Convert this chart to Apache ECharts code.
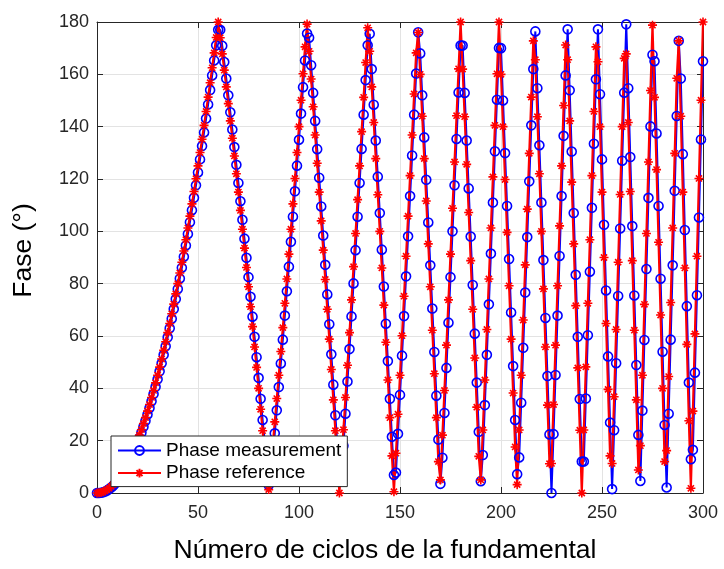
<!DOCTYPE html>
<html>
<head>
<meta charset="utf-8">
<script src="https://cdn.jsdelivr.net/npm/echarts@6/dist/echarts.min.js"></script>
<style>
html,body{margin:0;padding:0;background:#fff;}
#c{width:724px;height:569px;}
</style>
</head>
<body>
<div id="c"></div>
<script>
// Cycle number (x) is the array index: 0..300, one sample per cycle.
const xTicks = [0, 50, 100, 150, 200, 250, 300];
const yTicks = [0, 20, 40, 60, 80, 100, 120, 140, 160, 180];
const seriesNames = ['Phase measurement', 'Phase reference'];

const phaseMeasurement = [
  0, 0, 0.1, 0.3, 0.6, 1, 1.5, 2.1, 2.8, 3.6,
  4.5, 5.5, 6.6, 7.8, 9.1, 10.5, 12, 13.6, 15.3, 17.1,
  19, 21, 23.1, 25.3, 27.6, 30, 32.5, 35.1, 37.8, 40.6,
  43.5, 46.5, 49.6, 52.8, 56.1, 59.5, 63, 66.6, 70.3, 74.1,
  78, 82, 86.1, 90.3, 94.6, 99, 103.5, 108.1, 112.8, 117.6,
  122.5, 127.5, 132.6, 137.8, 143.1, 148.5, 154, 159.6, 165.3, 171.1,
  177, 177, 170.9, 164.7, 158.4, 152, 145.5, 138.9, 132.2, 125.4,
  118.5, 111.5, 104.4, 97.2, 89.9, 82.5, 75, 67.4, 59.7, 51.9,
  44, 36, 27.9, 19.7, 11.4, 3, 5.5, 14.1, 22.8, 31.6,
  40.5, 49.5, 58.6, 67.8, 77.1, 86.5, 96, 105.6, 115.3, 125.1,
  135, 145, 155.1, 165.3, 175.6, 174, 163.5, 152.9, 142.2, 131.4,
  120.5, 109.5, 98.4, 87.2, 75.9, 64.5, 53, 41.4, 29.7, 17.9,
  6, 6, 18.1, 30.3, 42.6, 55, 67.5, 80.1, 92.8, 105.6,
  118.5, 131.5, 144.6, 157.8, 171.1, 175.5, 162, 148.4, 134.7, 120.9,
  107, 93, 78.9, 64.7, 50.4, 36, 21.5, 6.9, 7.8, 22.6,
  37.5, 52.5, 67.6, 82.8, 98.1, 113.5, 129, 144.6, 160.3, 176.1,
  168, 152, 135.9, 119.7, 103.4, 87, 70.5, 53.9, 37.2, 20.4,
  3.5, 13.5, 30.6, 47.8, 65.1, 82.5, 100, 117.6, 135.3, 153.1,
  171, 171, 152.9, 134.7, 116.4, 98, 79.5, 60.9, 42.2, 23.4,
  4.5, 14.5, 33.6, 52.8, 72.1, 91.5, 111, 130.6, 150.3, 170.1,
  170, 150, 129.9, 109.7, 89.4, 69, 48.5, 27.9, 7.2, 13.6,
  34.5, 55.5, 76.6, 97.8, 119.1, 140.5, 162, 176.4, 154.7, 132.9,
  111, 89, 66.9, 44.7, 22.4, 0, 22.5, 45.1, 67.8, 90.6,
  113.5, 136.5, 159.6, 177.2, 153.9, 130.5, 107, 83.4, 59.7, 35.9,
  12, 12, 36.1, 60.3, 84.6, 109, 133.5, 158.1, 177.2, 152.4,
  127.5, 102.5, 77.4, 52.2, 26.9, 1.5, 24, 49.6, 75.3, 101.1,
  127, 153, 179.1, 154.7, 128.4, 102, 75.5, 48.9, 22.2, 4.6,
  31.5, 58.5, 85.6, 112.8, 140.1, 167.5, 165, 137.4, 109.7, 81.9,
  54, 26, 2.1, 30.3, 58.6, 87, 115.5, 144.1, 172.8, 158.4,
  129.5, 100.5, 71.4, 42.2, 12.9, 16.5, 46, 75.6, 105.3, 135.1,
  165
];

const phaseReference = [
  0, 0.1, 0.2, 0.5, 0.8, 1.3, 1.8, 2.5, 3.2, 4.1,
  5, 6.1, 7.2, 8.5, 9.8, 11.3, 12.8, 14.5, 16.2, 18.1,
  20, 22.1, 24.2, 26.5, 28.8, 31.3, 33.8, 36.5, 39.2, 42.1,
  45, 48.1, 51.2, 54.5, 57.8, 61.3, 64.8, 68.5, 72.2, 76.1,
  80, 84.1, 88.2, 92.5, 96.8, 101.3, 105.8, 110.5, 115.2, 120.1,
  125, 130.1, 135.2, 140.5, 145.8, 151.3, 156.8, 162.5, 168.2, 174.1,
  180, 174, 167.8, 161.6, 155.2, 148.8, 142.2, 135.6, 128.8, 122,
  115, 108, 100.8, 93.6, 86.2, 78.8, 71.2, 63.6, 55.8, 48,
  40, 32, 23.8, 15.6, 7.2, 1.3, 9.8, 18.5, 27.2, 36.1,
  45, 54.1, 63.2, 72.5, 81.8, 91.3, 100.8, 110.5, 120.2, 130.1,
  140, 150.1, 160.2, 170.5, 179.2, 168.8, 158.2, 147.6, 136.8, 126,
  115, 104, 92.8, 81.6, 70.2, 58.8, 47.2, 35.6, 23.8, 12,
  0, 12.1, 24.2, 36.5, 48.8, 61.3, 73.8, 86.5, 99.2, 112.1,
  125, 138.1, 151.2, 164.5, 177.8, 168.8, 155.2, 141.6, 127.8, 114,
  100, 86, 71.8, 57.6, 43.2, 28.8, 14.2, 0.5, 15.2, 30.1,
  45, 60.1, 75.2, 90.5, 105.8, 121.3, 136.8, 152.5, 168.2, 176,
  160, 144, 127.8, 111.6, 95.2, 78.8, 62.2, 45.6, 28.8, 12,
  5, 22.1, 39.2, 56.5, 73.8, 91.3, 108.8, 126.5, 144.2, 162.1,
  180, 162, 143.8, 125.6, 107.2, 88.8, 70.2, 51.6, 32.8, 14,
  5, 24.1, 43.2, 62.5, 81.8, 101.3, 120.8, 140.5, 160.2, 180,
  160, 140, 119.8, 99.6, 79.2, 58.8, 38.2, 17.6, 3.2, 24.1,
  45, 66.1, 87.2, 108.5, 129.8, 151.3, 172.8, 165.6, 143.8, 122,
  100, 78, 55.8, 33.6, 11.2, 11.3, 33.8, 56.5, 79.2, 102.1,
  125, 148.1, 171.2, 165.6, 142.2, 118.8, 95.2, 71.6, 47.8, 24,
  0, 24.1, 48.2, 72.5, 96.8, 121.3, 145.8, 170.5, 164.8, 140,
  115, 90, 64.8, 39.6, 14.2, 11.3, 36.8, 62.5, 88.2, 114.1,
  140, 166.1, 167.8, 141.6, 115.2, 88.8, 62.2, 35.6, 8.8, 18.1,
  45, 72.1, 99.2, 126.5, 153.8, 178.8, 151.2, 123.6, 95.8, 68,
  40, 12, 16.2, 44.5, 72.8, 101.3, 129.8, 158.5, 172.8, 144,
  115, 86, 56.8, 27.6, 1.8, 31.3, 60.8, 90.5, 120.2, 150.1,
  180
];

const FONT = '"Liberation Sans", Arial, Helvetica, sans-serif';
const AXIS_COLOR = '#262626';
const GRID_COLOR = '#e3e3e3';
const ASTERISK = 'path://M5 0L5 10M0 5L10 5M1.6 1.6L8.4 8.4M8.4 1.6L1.6 8.4';

const toPairs = arr => arr.map((v, i) => [i, v]);

const xMin = xTicks[0], xMax = xTicks[xTicks.length - 1];
const yMin = yTicks[0], yMax = yTicks[yTicks.length - 1];
const xStep = xTicks[1] - xTicks[0], yStep = yTicks[1] - yTicks[0];

function xAxisCfg(pos, show) {
  return {
    type: 'value', position: pos, min: xMin, max: xMax, interval: xStep,
    axisLine: { show: true, onZero: false, lineStyle: { color: AXIS_COLOR, width: 1 } },
    axisTick: { show: true, inside: true, length: 6, lineStyle: { color: AXIS_COLOR } },
    axisLabel: { show: show, margin: 11, fontSize: 18, color: AXIS_COLOR, fontFamily: FONT },
    splitLine: { show: show, lineStyle: { color: GRID_COLOR, width: 1 } }
  };
}
function yAxisCfg(pos, show) {
  return {
    type: 'value', position: pos, min: yMin, max: yMax, interval: yStep,
    axisLine: { show: true, onZero: false, lineStyle: { color: AXIS_COLOR, width: 1 } },
    axisTick: { show: true, inside: true, length: 6, lineStyle: { color: AXIS_COLOR } },
    axisLabel: { show: show, margin: 8, fontSize: 18, color: AXIS_COLOR, fontFamily: FONT },
    splitLine: { show: show, lineStyle: { color: GRID_COLOR, width: 1 } }
  };
}

const xBottom = xAxisCfg('bottom', true);
xBottom.name = 'Número de ciclos de la fundamental';
xBottom.nameLocation = 'middle';
xBottom.nameGap = 44;
xBottom.nameTextStyle = { fontSize: 26.5, color: '#000', fontFamily: FONT, padding: [0, 30, 0, 0] };

const yLeft = yAxisCfg('left', true);
yLeft.name = 'Fase (°)';
yLeft.nameLocation = 'middle';
yLeft.nameGap = 60;
yLeft.nameTextStyle = { fontSize: 26.5, color: '#000', fontFamily: FONT, padding: [0, 0, 0, 14] };

const chart = echarts.init(document.getElementById('c'), null, { renderer: 'canvas' });
chart.setOption({
  animation: false,
  backgroundColor: '#fff',
  grid: { left: 97, right: 21, top: 22, bottom: 69, containLabel: false },
  xAxis: [xBottom, xAxisCfg('top', false)],
  yAxis: [yLeft, yAxisCfg('right', false)],
  legend: {
    data: seriesNames,
    orient: 'vertical',
    left: 111, top: 436,
    itemWidth: 43, itemHeight: 11, itemGap: 3.6,
    padding: [5, 6, 4, 6],
    backgroundColor: '#fff',
    borderColor: AXIS_COLOR, borderWidth: 1, borderRadius: 0,
    textStyle: { fontSize: 19, color: '#000', fontFamily: FONT },
    selectedMode: false
  },
  series: [
    {
      name: seriesNames[0], type: 'line', xAxisIndex: 0, yAxisIndex: 0,
      data: toPairs(phaseMeasurement),
      symbol: 'circle', symbolSize: 9, showSymbol: true, showAllSymbol: true,
      lineStyle: { color: '#0000ff', width: 2 },
      itemStyle: { color: 'rgba(255,255,255,0)', borderColor: '#0000ff', borderWidth: 1.6 },
      emphasis: { disabled: true }, clip: true
    },
    {
      name: seriesNames[1], type: 'line', xAxisIndex: 0, yAxisIndex: 0,
      data: toPairs(phaseReference),
      symbol: ASTERISK, symbolSize: 9, showSymbol: true, showAllSymbol: true,
      lineStyle: { color: '#ff0000', width: 2.2 },
      itemStyle: { color: '#ff0000', borderColor: '#ff0000', borderWidth: 1.6 },
      emphasis: { disabled: true }, clip: true
    }
  ]
});
</script>
</body>
</html>
